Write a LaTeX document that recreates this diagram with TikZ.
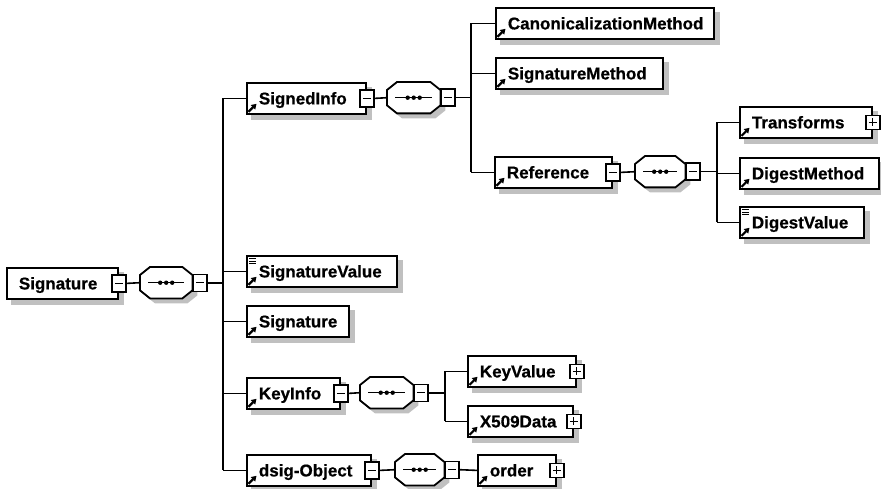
\documentclass[tikz,border=0pt]{standalone}
\usepackage{fontspec}
\setmainfont[BoldFeatures={FakeBold=0.6}]{Liberation Sans}
\usetikzlibrary{arrows.meta}
\definecolor{shadowgray}{RGB}{192,192,192}

% label text, left aligned inside a box of fixed width (in pt)
\newcommand\lbl[2]{\makebox[#1pt][l]{\hspace*{12pt}#2}}

% small reference arrow in the lower left corner of an element box
\newcommand\refmark[1]{%
  \draw[line width=2.2pt,-{Triangle[length=5pt,width=6pt]}]
    ([shift={(2.5pt,3pt)}]#1.south west) -- ++(8pt,8pt);}

% three short bars in the upper left corner (simple content)
\newcommand\simplemark[1]{%
  \draw[line width=1pt]
    ([shift={(3pt,-4pt)}]#1.north west) -- ++(7pt,0pt)
    ([shift={(3pt,-6.5pt)}]#1.north west) -- ++(7pt,0pt)
    ([shift={(3pt,-9pt)}]#1.north west) -- ++(7pt,0pt);}

% octagon outline around a sequence node; #2 style, #3/#4 offset
\newcommand\octpath[4]{%
  \path[#2]
    ([shift={(10pt+#3,#4)}]#1.north west) -- ([shift={(-10pt+#3,#4)}]#1.north east)
    -- ([shift={(#3,-8pt+#4)}]#1.north east) -- ([shift={(#3,8pt+#4)}]#1.south east)
    -- ([shift={(-10pt+#3,#4)}]#1.south east) -- ([shift={(10pt+#3,#4)}]#1.south west)
    -- ([shift={(#3,8pt+#4)}]#1.south west) -- ([shift={(#3,-8pt+#4)}]#1.north west)
    -- cycle;}

% sequence compositor: shadow, octagon, line with three dots
\newcommand\seqshape[1]{%
  \octpath{#1}{fill=shadowgray}{5pt}{-5pt}
  \octpath{#1}{draw, fill=white, line width=1.8pt}{0pt}{0pt}
  \draw[line width=1.5pt] ([xshift=8pt]#1.west) -- ([xshift=-8pt]#1.east);
  \fill ([xshift=-6pt]#1.center) circle[radius=2.2pt]
        (#1.center) circle[radius=2.2pt]
        ([xshift=6pt]#1.center) circle[radius=2.2pt];}

\tikzset{
  conn/.style={line width=1.6pt, draw=black},
  elem/.style={draw, fill=white, line width=1.8pt, anchor=north west,
    inner sep=0pt, minimum height=31pt, text height=12pt, text depth=0pt,
    font=\bfseries\fontsize{17}{20}\selectfont,
    preaction={fill=shadowgray, draw=shadowgray, transform canvas={shift={(5pt,-5pt)}}}},
  seqnode/.style={anchor=north west, inner sep=0pt, minimum height=31pt},
  toggle/.style={draw, fill=white, line width=1.4pt, inner sep=0pt, minimum width=14pt},
  minusbox/.style={toggle, minimum height=17pt,
    path picture={\draw[line width=1.2pt]
      ([xshift=3pt]path picture bounding box.west) -- ([xshift=-3pt]path picture bounding box.east);}},
  plusbox/.style={toggle, minimum height=14pt,
    path picture={\draw[line width=1.2pt]
      ([xshift=3pt]path picture bounding box.west) -- ([xshift=-3pt]path picture bounding box.east)
      ([yshift=-3pt]path picture bounding box.north) -- ([yshift=3pt]path picture bounding box.south);}},
}

\begin{document}
\begin{tikzpicture}[x=1pt,y=-1pt]
\useasboundingbox (0,0) rectangle (881,489);

% ---- root element and its sequence
\node[elem] (root) at (6,267) {\lbl{111}{Signature}};
\node[minusbox] (rootm) at (root.east) {};
\node[seqnode, minimum width=52pt] (s1) at (140,267) {};
\seqshape{s1}
\node[minusbox, anchor=west] (s1m) at (s1.east) {};

% ---- children of Signature
\node[elem] (signedinfo) at (246,82) {\lbl{119}{SignedInfo}};
\refmark{signedinfo}
\node[minusbox] (signedinfom) at (signedinfo.east) {};
\node[elem] (sigval) at (246,255) {\lbl{150}{SignatureValue}};
\refmark{sigval}\simplemark{sigval}
\node[elem] (sigref) at (246,305) {\lbl{102}{Signature}};
\refmark{sigref}
\node[elem] (keyinfo) at (246,377) {\lbl{93}{KeyInfo}};
\refmark{keyinfo}
\node[minusbox] (keyinfom) at (keyinfo.east) {};
\node[elem] (dsigobj) at (246,454) {\lbl{124}{dsig-Object}};
\refmark{dsigobj}
\node[minusbox] (dsigobjm) at (dsigobj.east) {};

% ---- SignedInfo sequence
\node[seqnode, minimum width=53pt] (s2) at (387,82) {};
\seqshape{s2}
\node[minusbox, anchor=west] (s2m) at (s2.east) {};
\node[elem] (canon) at (495,7) {\lbl{218}{CanonicalizationMethod}};
\refmark{canon}
\node[elem] (sigmeth) at (495,57) {\lbl{167}{SignatureMethod}};
\refmark{sigmeth}
\node[elem] (reference) at (494,156) {\lbl{117}{Reference}};
\refmark{reference}
\node[minusbox] (referencem) at (reference.east) {};

% ---- Reference sequence
\node[seqnode, minimum width=50pt] (s3) at (635,156) {};
\seqshape{s3}
\node[minusbox, anchor=west] (s3m) at (s3.east) {};
\node[elem] (transforms) at (739,106) {\lbl{132}{Transforms}};
\refmark{transforms}
\node[plusbox] (transformsp) at (transforms.east) {};
\node[elem] (digmeth) at (739,157) {\lbl{139}{DigestMethod}};
\refmark{digmeth}
\node[elem] (digval) at (739,206) {\lbl{124}{DigestValue}};
\refmark{digval}\simplemark{digval}

% ---- KeyInfo sequence
\node[seqnode, minimum width=53pt] (s4) at (360,377) {};
\seqshape{s4}
\node[minusbox, anchor=west] (s4m) at (s4.east) {};
\node[elem] (keyvalue) at (467,355) {\lbl{108}{KeyValue}};
\refmark{keyvalue}
\node[plusbox] (keyvaluep) at (keyvalue.east) {};
\node[elem] (x509) at (467,405) {\lbl{105}{X509Data}};
\refmark{x509}
\node[plusbox] (x509p) at (x509.east) {};

% ---- dsig-Object sequence
\node[seqnode, minimum width=49pt] (s5) at (395,454) {};
\seqshape{s5}
\node[minusbox, anchor=west] (s5m) at (s5.east) {};
\node[elem] (order) at (477,454) {\lbl{78}{order}};
\refmark{order}
\node[plusbox] (orderp) at (order.east) {};

% ---- connectors
\coordinate (bus1) at (223,0);
\coordinate (bus2) at (471,0);
\coordinate (bus3) at (717,0);
\coordinate (bus4) at (445,0);

\draw[conn] (rootm.east) -- (s1.west);
\draw[conn] (s1m.east) -- (s1m.east -| bus1);
\draw[conn] (bus1 |- signedinfo.west) -- (bus1 |- dsigobj.west);
\foreach \c in {signedinfo,sigval,sigref,keyinfo,dsigobj}
  \draw[conn] (bus1 |- \c.west) -- (\c.west);

\draw[conn] (signedinfom.east) -- (s2.west);
\draw[conn] (s2m.east) -- (s2m.east -| bus2);
\draw[conn] (bus2 |- canon.west) -- (bus2 |- reference.west);
\foreach \c in {canon,sigmeth,reference}
  \draw[conn] (bus2 |- \c.west) -- (\c.west);

\draw[conn] (referencem.east) -- (s3.west);
\draw[conn] (s3m.east) -- (s3m.east -| bus3);
\draw[conn] (bus3 |- transforms.west) -- (bus3 |- digval.west);
\foreach \c in {transforms,digmeth,digval}
  \draw[conn] (bus3 |- \c.west) -- (\c.west);

\draw[conn] (keyinfom.east) -- (s4.west);
\draw[conn] (s4m.east) -- (s4m.east -| bus4);
\draw[conn] (bus4 |- keyvalue.west) -- (bus4 |- x509.west);
\foreach \c in {keyvalue,x509}
  \draw[conn] (bus4 |- \c.west) -- (\c.west);

\draw[conn] (dsigobjm.east) -- (s5.west);
\draw[conn] (s5m.east) -- (order.west);
\end{tikzpicture}
\end{document}
